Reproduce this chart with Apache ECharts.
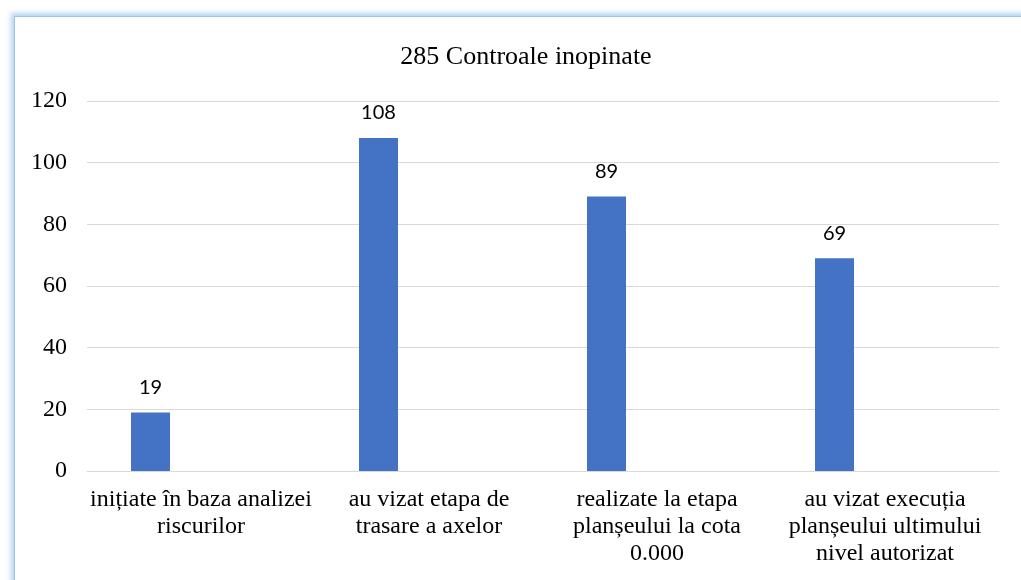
<!DOCTYPE html>
<html>
<head>
<meta charset="utf-8">
<script src="https://cdn.jsdelivr.net/npm/echarts@6/dist/echarts.min.js"></script>
<style>
  html, body { margin: 0; padding: 0; background: #fff; }
  #frame {
    position: absolute; left: 14px; top: 16px; width: 1030px; height: 600px;
    border: 1px solid #9dc3e6;
    box-shadow: 0 0 5px 3px rgba(120, 175, 235, 0.55);
  }
  #chart { position: absolute; left: 0; top: 0; width: 1021px; height: 580px; }
</style>
</head>
<body>
<div id="frame"></div>
<div id="chart"></div>
<script>
// categorii (cu rânduri rupte ca în Excel)
var categories = [
  'inițiate în baza analizei\nriscurilor',
  'au vizat etapa de\ntrasare a axelor',
  'realizate la etapa\nplanșeului la cota\n0.000',
  'au vizat execuția\nplanșeului ultimului\nnivel autorizat'
];
var controale = [19, 108, 89, 69];
var yTicks = [0, 20, 40, 60, 80, 100, 120];

var chart = echarts.init(document.getElementById('chart'));

var option = {
  animation: false,
  title: {
    text: '285 Controale inopinate',
    left: 521,
    textAlign: 'center',
    top: 39,
    textStyle: { fontFamily: 'Liberation Serif', fontSize: 26, fontWeight: 'normal', color: '#000' }
  },
  grid: { left: 87, right: 22, top: 101, bottom: 109 },
  xAxis: {
    type: 'category',
    data: categories,
    axisLine: { lineStyle: { color: '#d9d9d9' } },
    axisTick: { show: false },
    axisLabel: {
      interval: 0,   // toate etichetele, fără ascundere
      margin: 15,
      fontFamily: 'Liberation Serif',
      fontSize: 24,
      lineHeight: 27,
      color: '#000'
    }
  },
  yAxis: {
    type: 'value',
    min: yTicks[0],
    max: yTicks[yTicks.length - 1],
    interval: 20,
    axisLine: { show: false },
    axisTick: { show: false },
    splitLine: { lineStyle: { color: '#d9d9d9', width: 1 } },
    axisLabel: {
      margin: 20,
      fontFamily: 'Liberation Serif',
      fontSize: 24,
      color: '#000'
    }
  },
  series: [
    {
      name: 'Controale',
      type: 'bar',
      data: controale,
      barWidth: 39,
      barGap: '159%',
      itemStyle: { color: '#4472c4' },
      label: {
        show: true,
        position: 'top',
        distance: 15,
        fontFamily: 'Lato',
        fontSize: 20,
        color: '#000'
      }
    },
    {
      // seria goală din Excel care împinge barele spre stânga
      name: 'gol',
      type: 'bar',
      data: [],
      barWidth: 39
    }
  ]
};

chart.setOption(option);
</script>
</body>
</html>
